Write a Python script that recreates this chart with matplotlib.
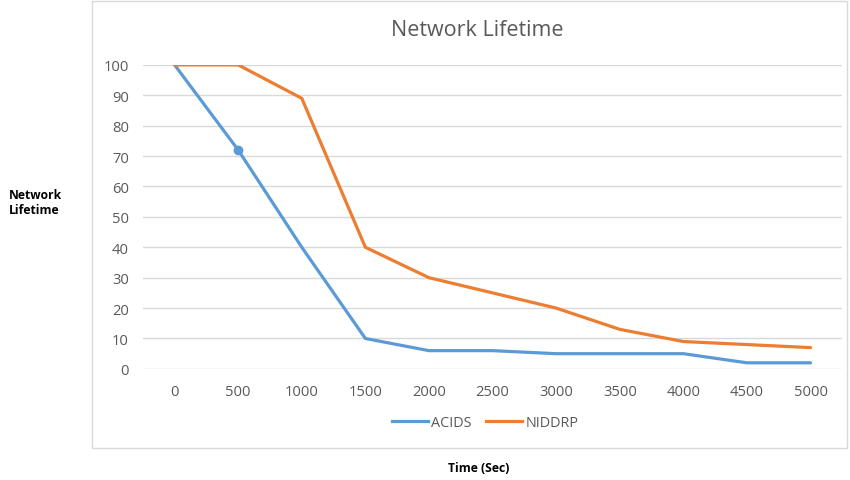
import matplotlib
matplotlib.use("Agg")
import matplotlib.pyplot as plt
from matplotlib.patches import Rectangle
from matplotlib.lines import Line2D

# time steps (sec) and remaining alive nodes (%)
times = [0, 500, 1000, 1500, 2000, 2500, 3000, 3500, 4000, 4500, 5000]
acids = [100, 72, 40, 10, 6, 6, 5, 5, 5, 2, 2]
niddrp = [100, 100, 89, 40, 30, 25, 20, 13, 9, 8, 7]

BLUE, ORANGE, GRID, TXT = "#5b9bd5", "#ed7d31", "#d9d9d9", "#595959"
plt.rcParams["font.family"] = ["Open Sans", "DejaVu Sans"]

fig = plt.figure(figsize=(8.5, 4.81), dpi=100)
fig.patches.append(Rectangle((0.108, 0.066), 0.889, 0.93, transform=fig.transFigure,
                             fill=False, ec=GRID, lw=1.0))
ax = fig.add_axes([0.168, 0.231, 0.823, 0.632])
xs = list(range(len(times)))
ax.plot(xs, acids, color=BLUE, lw=2.3, solid_capstyle="round", solid_joinstyle="round", zorder=3)
ax.plot(xs, niddrp, color=ORANGE, lw=2.3, solid_capstyle="round", solid_joinstyle="round", zorder=3)
ax.plot(xs[1], acids[1], "o", color=BLUE, ms=6, zorder=4)

ax.set_xlim(-0.5, len(times) - 0.5)
ax.set_ylim(0, 100)
ax.set_yticks(range(0, 101, 10))
ax.set_xticks(xs)
ax.set_xticklabels([str(t) for t in times])
ax.tick_params(length=0, labelsize=10.6, colors=TXT)
ax.tick_params(axis="x", pad=11)
ax.tick_params(axis="y", pad=10)
ax.grid(axis="y", color=GRID, lw=1.0)
ax.set_axisbelow(True)
for s in ax.spines.values():
    s.set_visible(False)

fig.text(0.561, 0.936, "Network Lifetime", ha="center", va="center", fontsize=15.5, color=TXT)
fig.text(0.011, 0.578, "Network\nLifetime", ha="left", va="center", fontsize=8.7,
         fontweight="bold", linespacing=1.25)
fig.text(0.563, 0.027, "Time (Sec)", ha="center", va="center", fontsize=8.7, fontweight="bold")

handles = [Line2D([], [], color=BLUE, lw=2.3, label="ACIDS"),
           Line2D([], [], color=ORANGE, lw=2.3, label="NIDDRP")]
fig.legend(handles=handles, loc="center", bbox_to_anchor=(0.571, 0.12), ncol=2, frameon=False,
           fontsize=10.4, labelcolor=TXT, handlelength=2.5, handletextpad=0.25, columnspacing=1.0)

fig.savefig("out.png", dpi=100)
